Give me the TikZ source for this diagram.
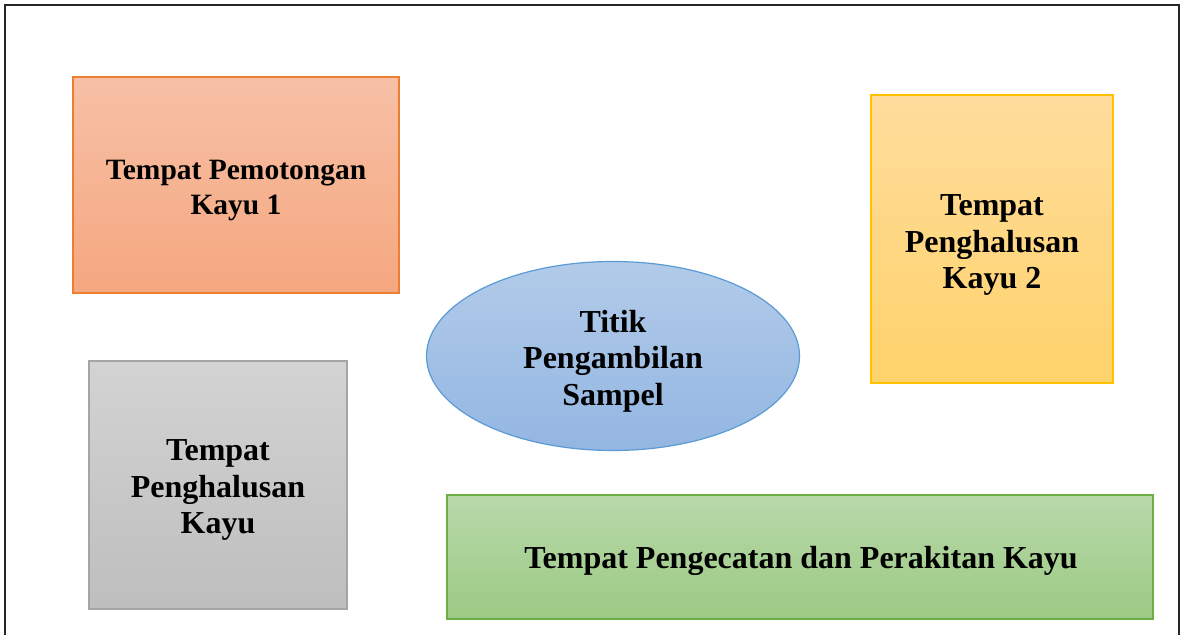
\documentclass[tikz,border=0pt]{standalone}
\usepackage{fontspec}
\setmainfont{Liberation Serif}
\usetikzlibrary{shapes.geometric}
\definecolor{orfill1}{HTML}{F7C0A6}
\definecolor{orfill2}{HTML}{F5A77F}
\definecolor{ordraw}{HTML}{ED7D31}
\definecolor{yefill1}{HTML}{FFDC9C}
\definecolor{yefill2}{HTML}{FFD36B}
\definecolor{yedraw}{HTML}{FFC000}
\definecolor{blfill1}{HTML}{B2CBE9}
\definecolor{blfill2}{HTML}{93B6E2}
\definecolor{bldraw}{HTML}{5B9BD5}
\definecolor{grfill1}{HTML}{D3D3D3}
\definecolor{grfill2}{HTML}{BEBEBE}
\definecolor{grdraw}{HTML}{A5A5A5}
\definecolor{gnfill1}{HTML}{B8D8AA}
\definecolor{gnfill2}{HTML}{9BCA83}
\definecolor{gndraw}{HTML}{70AD47}
\tikzset{
  area/.style={draw, line width=1.2pt},
  label/.style={align=center, font=\bfseries\fontsize{32}{36.5}\selectfont},
}
\begin{document}
\begin{tikzpicture}[x=1pt,y=-1pt]
\useasboundingbox (0,0) rectangle (1185,634);
\draw[line width=1.5pt, black!85] (5,640) -- (5,5) -- (1179,5) -- (1179,640);
% orange
\path[area, draw=ordraw, top color=orfill1, bottom color=orfill2] (73,77) rectangle (399,293);
\node[align=center, font=\bfseries\fontsize{29.5}{35}\selectfont] (cut) at (236,191) {Tempat Pemotongan\\Kayu 1};
% yellow
\path[area, draw=yedraw, top color=yefill1, bottom color=yefill2] (871,95) rectangle (1113,383);
\node[label] (smooth2) at (992,245) {Tempat\\Penghalusan\\Kayu 2};
% ellipse
\node[ellipse, draw=bldraw, line width=1.2pt, top color=blfill1, bottom color=blfill2,
  minimum width=373, minimum height=189, inner sep=0pt] (pt) at (613,356) {};
\node[label] (ptt) at (613,361) {Titik\\Pengambilan\\Sampel};
% gray
\path[area, draw=grdraw, top color=grfill1, bottom color=grfill2] (89,361) rectangle (347,609);
\node[label] (smooth) at (218,490) {Tempat\\Penghalusan\\Kayu};
% green
\path[area, draw=gndraw, top color=gnfill1, bottom color=gnfill2] (447,495) rectangle (1153,619);
\node[label] (paint) at (801,561) {Tempat Pengecatan dan Perakitan Kayu};
\end{tikzpicture}
\end{document}
